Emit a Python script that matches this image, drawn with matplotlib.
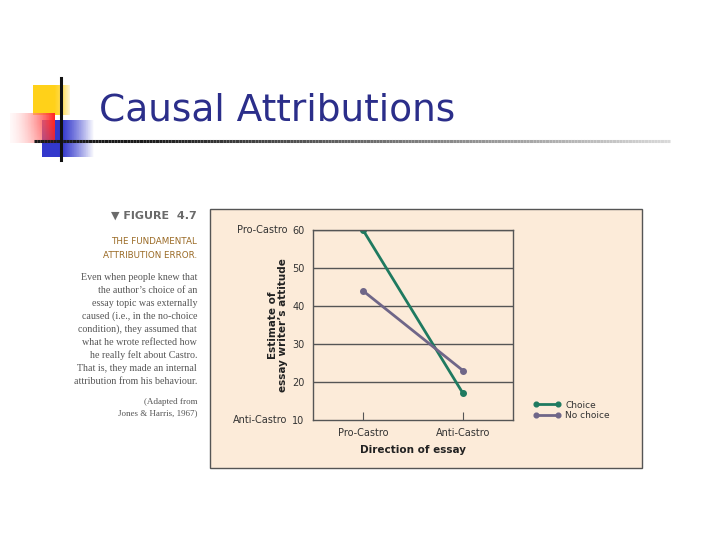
import numpy as np
import matplotlib
matplotlib.use('Agg')
import matplotlib.pyplot as plt
from matplotlib.patches import Rectangle
from matplotlib.collections import LineCollection

# data
conditions = ['Choice', 'No choice']
essay_dirs = ['Pro-Castro', 'Anti-Castro']
choice_vals = [60, 17]
nochoice_vals = [44, 23]
y_ticks = [10, 20, 30, 40, 50, 60]
colors = ['#1f7a60', '#6f6688']

W, H = 720, 540
fig = plt.figure(figsize=(7.2, 5.4), dpi=100)
fig.patch.set_facecolor('white')

def fx(px):
    return px / W

def fy(py):
    return 1 - py / H

# ---- slide decoration ----
deco = fig.add_axes([0, 0, 1, 1], zorder=0)
deco.set_xlim(0, W)
deco.set_ylim(H, 0)
deco.axis('off')

gx = np.linspace(0, 1, 30)[None, :]
gy = np.linspace(0, 1, 20)[:, None]
# yellow square, fading to the right
yel = np.zeros((20, 30, 4))
yel[..., 0], yel[..., 1], yel[..., 2] = 1.0, 0.82, 0.1
yel[..., 3] = np.clip(1.2 - gx ** 3, 0, 1)
deco.imshow(yel, extent=(33, 70, 115, 85), aspect='auto', zorder=1)
# blue square, fading to the right
blu = np.zeros((20, 30, 4))
blu[..., 0], blu[..., 1], blu[..., 2] = 0.2, 0.22, 0.8
blu[..., 3] = np.clip(1.3 - gx ** 1.5 * 1.3, 0, 1)
deco.imshow(blu, extent=(42, 95, 157, 120), aspect='auto', zorder=2)
# red square, pale on the left, strong on the right
red = np.ones((20, 30, 4))
red[..., 1] = 0.15 + 0.75 * (1 - gx)
red[..., 2] = red[..., 1]
red[..., 3] = np.clip(0.25 + 0.75 * gx, 0, 1) * np.clip(1.1 - 0.3 * gy, 0, 1)
deco.imshow(red, extent=(10, 55, 143, 113), aspect='auto', zorder=3)
# black cross lines
deco.plot([61, 61], [78, 160], color='#111111', lw=2.2, zorder=5)
xs = np.linspace(34, 670, 200)
segs = [[(xs[i], 141), (xs[i + 1], 141)] for i in range(len(xs) - 1)]
shade = np.clip(np.linspace(-0.05, 0.85, len(segs)), 0.1, 1)
lc = LineCollection(segs, colors=[(s, s, s) for s in shade], linewidths=2.2, zorder=4)
deco.add_collection(lc)

fig.text(fx(99), fy(111), 'Causal Attributions', fontsize=27, color='#2b2e8a',
         ha='left', va='center', family='DejaVu Sans')

# ---- beige panel ----
fig.patches.append(Rectangle((fx(210), fy(468)), fx(432), 259 / H, transform=fig.transFigure,
                             facecolor='#fcebd9', edgecolor='#555555', lw=1, zorder=0.5))

# ---- caption ----
cap_x = fx(197)
fig.text(cap_x, fy(216), '\u25bc FIGURE  4.7', fontsize=8, color='#6a6a6a', ha='right',
         va='center', family='DejaVu Sans', fontweight='bold')
fig.text(cap_x, fy(241), 'THE FUNDAMENTAL', fontsize=6.3, color='#9a6a25', ha='right', va='center',
         family='DejaVu Sans')
fig.text(cap_x, fy(256), 'ATTRIBUTION ERROR.', fontsize=6.3, color='#9a6a25', ha='right', va='center',
         family='DejaVu Sans')
body = ['Even when people knew that', "the author\u2019s choice of an", 'essay topic was externally',
        'caused (i.e., in the no-choice', 'condition), they assumed that', 'what he wrote reflected how',
        'he really felt about Castro.', 'That is, they made an internal', 'attribution from his behaviour.']
for i, line in enumerate(body):
    fig.text(cap_x, fy(277 + i * 13.1), line, fontsize=7.2, color='#555555', ha='right', va='center',
             family='Liberation Serif')
fig.text(cap_x, fy(402), '(Adapted from', fontsize=6.5, color='#555555', ha='right', va='center',
         family='Liberation Serif')
fig.text(cap_x, fy(413), 'Jones & Harris, 1967)', fontsize=6.5, color='#555555', ha='right', va='center',
         family='Liberation Serif')

# ---- chart ----
ax = fig.add_axes([fx(313), fy(420), fx(200), 190 / H], zorder=2)
ax.set_facecolor('none')
x = np.arange(len(essay_dirs))
ax.plot(x, choice_vals, color=colors[0], lw=2, marker='o', ms=4, label=conditions[0])
ax.plot(x, nochoice_vals, color=colors[1], lw=2, marker='o', ms=4, label=conditions[1])
ax.set_xlim(-0.5, 1.5)
ax.set_ylim(10, 60)
ax.set_yticks(y_ticks)
ax.set_yticklabels([str(v) for v in y_ticks], fontsize=7, color='#333333', family='DejaVu Sans')
ax.set_xticks(x)
ax.set_xticklabels(essay_dirs, fontsize=7, color='#333333', family='DejaVu Sans')
ax.tick_params(axis='y', length=0, pad=6)
ax.tick_params(axis='x', direction='in', length=6, color='#555555', pad=6)
for v in y_ticks[1:]:
    ax.axhline(v, color='#555555', lw=1, zorder=0)
for s in ax.spines.values():
    s.set_color('#555555')
    s.set_linewidth(1)
ax.set_xlabel('Direction of essay', fontsize=7.5, fontweight='bold', color='#222222', labelpad=5)
ax.set_ylabel('Estimate of\nessay writer\u2019s attitude', fontsize=7.5, fontweight='bold',
              color='#222222', labelpad=3, linespacing=1.0)
ax.text(-0.13, 60, 'Pro-Castro', transform=ax.get_yaxis_transform(), fontsize=7, color='#333333',
        ha='right', va='center')
ax.text(-0.13, 10, 'Anti-Castro', transform=ax.get_yaxis_transform(), fontsize=7, color='#333333',
        ha='right', va='center')

leg = ax.legend(loc='upper left', bbox_to_anchor=(fx(530), fy(397)), bbox_transform=fig.transFigure,
                frameon=False, fontsize=6.5, numpoints=2, handlelength=3.0, handletextpad=0.5,
                labelspacing=0.2, borderaxespad=0, markerscale=0.85)
for t in leg.get_texts():
    t.set_color('#333333')

fig.savefig('out.png', dpi=100)
